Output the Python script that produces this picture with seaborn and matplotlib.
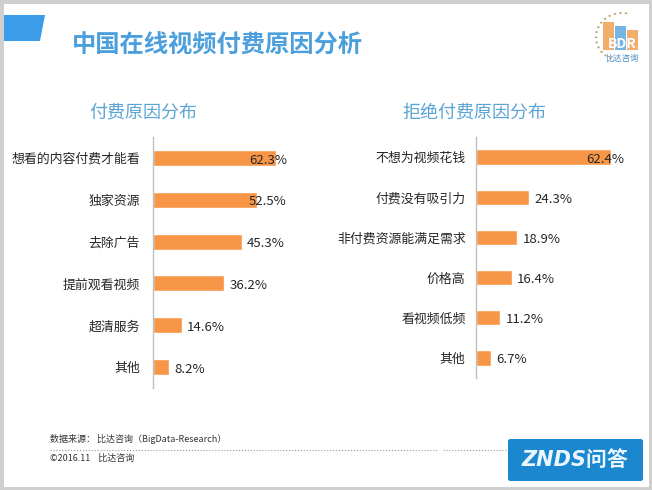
import numpy as np
import pandas as pd
import matplotlib
matplotlib.use("Agg")
import matplotlib.pyplot as plt
from matplotlib.patches import Polygon, Rectangle, FancyBboxPatch, Circle
from matplotlib.lines import Line2D
from matplotlib.ticker import FixedLocator
import seaborn as sns

# data
pay_reasons = ["想看的内容付费才能看", "独家资源", "去除广告", "提前观看视频", "超清服务", "其他"]
pay_values = [62.3, 52.5, 45.3, 36.2, 14.6, 8.2]
refuse_reasons = ["不想为视频花钱", "付费没有吸引力", "非付费资源能满足需求", "价格高", "看视频低频", "其他"]
refuse_values = [62.4, 24.3, 18.9, 16.4, 11.2, 6.7]

title = "中国在线视频付费原因分析"
left_title = "付费原因分布"
right_title = "拒绝付费原因分布"
source_note = "数据来源： 比达咨询（BigData-Research）"
copyright_note = "©2016.11    比达咨询"

BAR = "#F79646"
BLUE = "#4A9FDC"
W, H = 652, 490

sns.set_style("white")
plt.rcParams["font.family"] = ["Noto Sans CJK SC", "DejaVu Sans"]

fig = plt.figure(figsize=(W / 100, H / 100), dpi=100)


def px_box(x0, y_top, x1, y_bot):
    return [x0 / W, 1 - y_bot / H, (x1 - x0) / W, (y_bot - y_top) / H]


def draw_panel(ax, cats, vals, clamp, pad):
    df = pd.DataFrame({"cat": cats, "val": vals})
    sns.barplot(data=df, x="val", y="cat", orient="h", color=BAR,
                saturation=1, width=0.38, ax=ax)
    ax.set_xlim(0, 70)
    ax.set_ylim(len(cats) - 0.5, -0.5)
    for s in ["top", "right", "bottom"]:
        ax.spines[s].set_visible(False)
    ax.spines["left"].set_color("#BFBFBF")
    ax.spines["left"].set_linewidth(1)
    ax.set_xticks([])
    ax.set_xlabel("")
    ax.set_ylabel("")
    ax.tick_params(axis="y", which="major", length=0, pad=pad,
                   labelsize=9.3, labelcolor="#262626")
    ax.yaxis.set_minor_locator(FixedLocator(np.arange(-0.5, len(cats), 1)))
    ax.tick_params(axis="y", which="minor", length=4, color="#BFBFBF", width=1)
    for i, v in enumerate(vals):
        ax.text(min(v + 2.5, clamp), i + 0.05, f"{v}%", va="center", ha="left",
                fontsize=9.5, color="#262626")


ax1 = fig.add_axes(px_box(153, 137, 291, 388))
draw_panel(ax1, pay_reasons, pay_values, 48.6, 9.5)

ax2 = fig.add_axes(px_box(476, 137, 628, 378))
draw_panel(ax2, refuse_reasons, refuse_values, 51.0, 7.5)

# headings
fig.text(72 / W, 1 - 46 / H, title, fontsize=17.5, fontweight="bold",
         color=BLUE, va="center", ha="left")
fig.text(143 / W, 1 - 113 / H, left_title, fontsize=13, color="#5AA5D6",
         va="center", ha="center")
fig.text(474 / W, 1 - 113 / H, right_title, fontsize=13, color="#5AA5D6",
         va="center", ha="center")

# top-left blue tab
fig.add_artist(Polygon([(3 / W, 1 - 15 / H), (45 / W, 1 - 15 / H),
                        (40 / W, 1 - 41 / H), (3 / W, 1 - 41 / H)],
                       closed=True, facecolor="#3D9CE8", edgecolor="none",
                       transform=fig.transFigure))

# BDR logo
for x0, c, top in [(603, "#F0A050", 22), (615, "#5BA8E0", 26), (627, "#F0A050", 30)]:
    fig.add_artist(Rectangle((x0 / W, 1 - 50 / H), 11 / W, (50 - top) / H,
                             facecolor=c, edgecolor="none", alpha=0.85,
                             transform=fig.transFigure))
for a in np.linspace(np.pi * 0.45, np.pi * 1.35, 14):
    cx, cy = 622 + 26 * np.cos(a), 37 - 24 * np.sin(a)
    fig.add_artist(Circle((cx / W, 1 - cy / H), 1.3 / W, facecolor="#C8A070",
                          edgecolor="none", transform=fig.transFigure))
fig.text(622 / W, 1 - 44 / H, "BDR", fontsize=10, color="white",
         ha="center", va="center", fontweight="bold")
fig.text(622 / W, 1 - 58 / H, "比达咨询", fontsize=6, color="#4A8FC8",
         ha="center", va="center")

# footer
fig.text(50 / W, 1 - 439 / H, source_note, fontsize=6.5, color="#333333",
         va="center", ha="left")
fig.text(50 / W, 1 - 458 / H, copyright_note, fontsize=6.5, color="#333333",
         va="center", ha="left")
fig.add_artist(Line2D([50 / W, 437 / W], [1 - 450 / H] * 2, linestyle=":",
                      color="#999999", linewidth=0.8, transform=fig.transFigure))
fig.add_artist(Line2D([443 / W, 508 / W], [1 - 450 / H] * 2, linestyle=":",
                      color="#999999", linewidth=0.8, transform=fig.transFigure))

# ZNDS badge
fig.add_artist(FancyBboxPatch((508 / W, 1 - 481 / H), 135 / W, 42 / H,
                              boxstyle="round,pad=0,rounding_size=0.004",
                              facecolor="#1B87CF", edgecolor="none",
                              transform=fig.transFigure))
fig.text(575 / W, 1 - 460 / H, "ZNDS问答", fontsize=15, color="#EAF6FF",
         fontweight="bold", style="italic", ha="center", va="center",
         family=["DejaVu Sans", "Noto Sans CJK SC"])

# outer frame
fig.add_artist(Rectangle((0, 0), 1, 1, fill=False, edgecolor="#CFCFCF",
                         linewidth=5, transform=fig.transFigure))

fig.savefig("out.png", dpi=100)
